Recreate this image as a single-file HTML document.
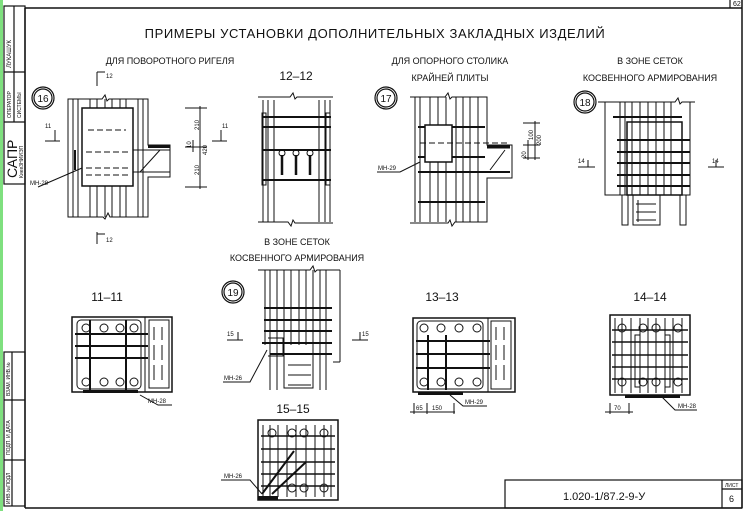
<!DOCTYPE html>
<html><head><meta charset="utf-8"><style>
html,body{margin:0;padding:0;background:#fff;}
svg{display:block;}
text{font-family:"Liberation Sans","DejaVu Sans",sans-serif;fill:#111;}
</style></head><body>
<svg width="750" height="511" viewBox="0 0 750 511" xmlns="http://www.w3.org/2000/svg">
<rect x="0" y="0" width="750" height="511" fill="#fff"/>
<rect x="0" y="0" width="3" height="511" fill="#7fe07f"/>
<g stroke="#111" fill="none" stroke-width="1.2">
<!-- frame -->
<line x1="25" y1="8" x2="742" y2="8" stroke-width="1.5"/>
<line x1="25" y1="8" x2="25" y2="508" stroke-width="1.5"/>
<line x1="742" y1="0" x2="742" y2="508" stroke-width="1.5"/>
<line x1="25" y1="508" x2="742" y2="508" stroke-width="1.5"/>
<line x1="730" y1="0" x2="730" y2="8"/>
<!-- left stamps -->
<rect x="4" y="6" width="21" height="178"/>
<line x1="4" y1="72" x2="25" y2="72"/><line x1="4" y1="122" x2="25" y2="122"/>
<line x1="14" y1="6" x2="14" y2="72"/><line x1="14" y1="72" x2="14" y2="122"/>
<rect x="4" y="352" width="21" height="154"/>
<line x1="4" y1="400" x2="25" y2="400"/><line x1="4" y1="460" x2="25" y2="460"/>
<line x1="12" y1="352" x2="12" y2="506"/>
<!-- title block -->
<rect x="505" y="480" width="237" height="28"/>
<line x1="722" y1="480" x2="722" y2="508"/><line x1="722" y1="489" x2="742" y2="489"/>
</g>
<g font-size="7">
<text transform="translate(11,68) rotate(-90)" font-size="6">ЛУКАШУК</text>
<text transform="translate(11,118) rotate(-90)" font-size="5">ОПЕРАТОР</text>
<text transform="translate(21,118) rotate(-90)" font-size="5">СИСТЕМЫ</text>
<text transform="translate(17,178) rotate(-90)" font-size="14">САПР</text>
<text transform="translate(23,178) rotate(-90)" font-size="5">КиевЗНИИЭП</text>
<text transform="translate(10,396) rotate(-90)" font-size="5">ВЗАМ. ИНВ.№</text>
<text transform="translate(10,455) rotate(-90)" font-size="5">ПОДП. И ДАТА</text>
<text transform="translate(10,504) rotate(-90)" font-size="5">ИНВ.№ПОДЛ</text>
<text x="733" y="6" font-size="7">62</text>
<text x="725" y="487" font-size="5">ЛИСТ</text>
<text x="729" y="502" font-size="9">6</text>
<text x="563" y="500" font-size="11">1.020-1/87.2-9-У</text>
</g>
<!-- titles -->
<text x="375" y="38" font-size="13" text-anchor="middle" letter-spacing="0.6">ПРИМЕРЫ УСТАНОВКИ ДОПОЛНИТЕЛЬНЫХ ЗАКЛАДНЫХ ИЗДЕЛИЙ</text>
<g font-size="9" text-anchor="middle">
<text x="170" y="64">ДЛЯ ПОВОРОТНОГО РИГЕЛЯ</text>
<text x="450" y="64">ДЛЯ ОПОРНОГО СТОЛИКА</text>
<text x="450" y="81">КРАЙНЕЙ ПЛИТЫ</text>
<text x="650" y="64">В ЗОНЕ СЕТОК</text>
<text x="650" y="81">КОСВЕННОГО АРМИРОВАНИЯ</text>
<text x="297" y="245">В ЗОНЕ СЕТОК</text>
<text x="297" y="261">КОСВЕННОГО АРМИРОВАНИЯ</text>
</g>
<g font-size="12" text-anchor="middle">
<text x="296" y="80">12–12</text>
<text x="107" y="301">11–11</text>
<text x="442" y="301">13–13</text>
<text x="650" y="301">14–14</text>
<text x="293" y="413">15–15</text>
</g>
<g stroke="#111" fill="none" stroke-width="1.2">
<circle cx="43" cy="98" r="11"/><circle cx="43" cy="98" r="9"/>
<circle cx="386" cy="98" r="11"/><circle cx="386" cy="98" r="9"/>
<circle cx="585" cy="102" r="11"/><circle cx="585" cy="102" r="9"/>
<circle cx="233" cy="292" r="11"/><circle cx="233" cy="292" r="9"/>
</g>
<g font-size="10" text-anchor="middle"><text x="43" y="102">16</text><text x="386" y="102">17</text><text x="585" y="106">18</text><text x="233" y="296">19</text></g>

<g stroke="#111" fill="none" stroke-width="1">
<!-- detail 16 -->
<path d="M68 99 H102 l3 -4 l2 6 l2 -2 H148 V145 H170 V177 H148 V217 H110 l-2 -4 l-3 6 l-2 -2 H68 Z"/>
<path d="M73 99V217M78 99V217M138 99V217M143 99V217M90 99V108M97 99V108M105 99V108M112 99V108M120 99V108M126 99V108M90 186V217M97 186V217M105 186V217M112 186V217M120 186V217M126 186V217"/>
<rect x="82" y="108" width="51" height="78" stroke-width="1.5"/>
<path d="M88 130H126M86 152H128M86 168H128M86 175H128" stroke-dasharray="6 3"/>
<path d="M133 150H170M133 172H170M140 172L160 150" />
<path d="M75 150V170" stroke-width="2"/>
<path d="M38 187L82 168"/>
<path d="M185 108H207M185 147H207M185 187H207M200 106V189M193 140V152" />
<path d="M45 141H60M55 130V141 M212 141H227M221 130V141M97 72V86M97 72H105M97 232V244M97 234H105"/>
<!-- 12-12 -->
<path d="M258 97H290l3 -4l2 6l2 -2H333 M258 222H288l3 4l2 -6l2 3H333"/>
<path d="M263 100V222M268 100V222M274 100V222M319 100V222M325 100V222M330 100V222"/>
<path d="M262 117H331M262 127H331M262 150H331M262 180H331" stroke-width="2"/>
<rect x="262" y="113" width="4" height="72"/><rect x="326" y="113" width="4" height="72"/>
<path d="M282 155V175M296 155V175M310 155V175" stroke-width="2.5"/>
<circle cx="282" cy="153" r="3"/><circle cx="296" cy="153" r="3"/><circle cx="310" cy="153" r="3"/>
<!-- detail 17 -->
<path d="M410 97H445l3 -4l2 6l2 -2H487V145H512V178H487V222H455l-3 4l-2 -6l-2 3H410"/>
<path d="M415 97V222M420 97V222M430 97V222M438 97V222M446 97V222M456 97V222M463 97V222M470 97V222M478 97V222"/>
<path d="M418 127H485M418 157H485M418 172H510M418 202H485" stroke-width="2"/>
<rect x="425" y="125" width="27" height="37" fill="#fff" stroke-width="1.5"/>
<path d="M420 143H510" stroke-dasharray="6 3"/>
<path d="M487 148H510M490 170L505 150M420 155V175" />
<path d="M377 172H400L420 162"/>
<path d="M523 123H540M523 145H540M523 158H540M535 121V160M528 140V160"/>
<!-- detail 18 -->
<path d="M598 102H675l3 -4l2 6l2 -2H695 M605 102V195H690V102"/>
<path d="M620 102V195M625 102V195M632 102V195M640 102V195M648 102V195M656 102V195M664 102V195M671 102V195"/>
<path d="M613 117H682" stroke-width="2"/>
<rect x="627" y="122" width="55" height="73" stroke-width="1.5"/>
<path d="M617 140H690M617 152H690M617 163H690M617 175H690M617 186H690" stroke-width="2"/>
<path d="M633 195V225H660V195M638 200V222M622 195V225H628V195M680 195V225H686V195 M636 204H656M636 212H656M636 220H656" />
<path d="M578 167H595M588 160V167 M708 167H724M716 160V167"/>
<!-- 11-11 -->
<rect x="72" y="317" width="100" height="75" stroke-width="1.5"/>
<rect x="77" y="320" width="64" height="69" rx="4"/>
<line x1="145" y1="317" x2="145" y2="392"/>
<rect x="149" y="320" width="20" height="68"/>
<path d="M75 334H148M75 346H148M75 358H148M90 320V390M126 320V390" stroke-width="2"/>
<path d="M154 327V340M162 327V340M154 345V360M162 345V360M154 365V380M162 365V380"/>
<path d="M140 395L158 405H172"/>
<!-- 19 -->
<path d="M258 270H310l3 -4l2 6l2 -2H340 M265 270V345M340 270V362M333 362H340"/>
<path d="M270 270V390M277 270V390M284 270V345M291 270V345M299 270V345M306 270V345M313 270V345M320 270V390M326 270V390"/>
<path d="M264 308H332M264 320H332M264 331H332M262 343H332M270 354H332" stroke-width="2"/>
<path d="M268 338H283V356H268"/>
<path d="M284 345V388H313V345M288 365H311M288 375H311M288 385H311"/>
<path d="M223 382H250L267 350 M227 340H243M238 332V340 M352 340H368M360 332V340"/>
<!-- 15-15 -->
<rect x="258" y="420" width="80" height="80" stroke-width="1.5"/>
<path d="M263 425V497M270 425V497M278 425V497M287 425V497M296 425V497M306 425V497M315 425V497M324 425V497M331 425V497"/>
<path d="M261 436H335M261 449H335M261 462H335M261 474H335M261 486H335" stroke-width="1.5"/>
<path d="M262 494L294 451M272 494L306 462" stroke-width="2"/>
<path d="M221 480H250L262 494"/>
<!-- 13-13 -->
<rect x="413" y="318" width="102" height="74" stroke-width="1.5"/>
<rect x="417" y="321" width="66" height="68" rx="4"/>
<line x1="488" y1="318" x2="488" y2="392"/>
<rect x="491" y="321" width="20" height="68"/>
<path d="M416 341H490M416 354H490M416 368H490M428 335V390M446 335V390" stroke-width="2"/>
<path d="M496 327V340M504 327V340M496 345V360M504 345V360M496 365V380M504 365V380"/>
<path d="M450 395L463 406H487M410 412H455M414 403V414M427 403V414M454 403V414"/>
<!-- 14-14 -->
<rect x="610" y="315" width="80" height="80" stroke-width="1.5"/>
<path d="M615 318V393M622 318V393M631 318V393M640 318V393M648 318V393M656 318V393M665 318V393M673 318V393M682 318V393"/>
<path d="M612 330H688M612 342H688M612 355H688M612 367H688M612 379H688" stroke-width="1.5"/>
<rect x="635" y="335" width="5" height="52"/><rect x="665" y="335" width="5" height="52"/>
<path d="M662 397L675 410H697M605 412H633M610 403V414M629 403V414"/>
</g>
<g fill="#111" stroke="none">
<rect x="83" y="390" width="55" height="3"/><rect x="418" y="392" width="45" height="3"/><rect x="625" y="395" width="55" height="3"/>
<rect x="148" y="145" width="22" height="3"/><rect x="487" y="145" width="23" height="3"/>
<rect x="258" y="496" width="20" height="4"/>
</g>
<g stroke="#111" fill="none" stroke-width="1">
<circle cx="86" cy="328" r="4"/><circle cx="104" cy="328" r="4"/><circle cx="120" cy="328" r="4"/><circle cx="134" cy="328" r="4"/>
<circle cx="86" cy="382" r="4"/><circle cx="104" cy="382" r="4"/><circle cx="120" cy="382" r="4"/><circle cx="134" cy="382" r="4"/>
<circle cx="424" cy="328" r="4"/><circle cx="441" cy="328" r="4"/><circle cx="459" cy="328" r="4"/><circle cx="477" cy="328" r="4"/>
<circle cx="424" cy="382" r="4"/><circle cx="441" cy="382" r="4"/><circle cx="459" cy="382" r="4"/><circle cx="477" cy="382" r="4"/>
<circle cx="622" cy="328" r="4"/><circle cx="643" cy="328" r="4"/><circle cx="656" cy="328" r="4"/><circle cx="678" cy="328" r="4"/>
<circle cx="622" cy="382" r="4"/><circle cx="643" cy="382" r="4"/><circle cx="656" cy="382" r="4"/><circle cx="678" cy="382" r="4"/>
<circle cx="272" cy="433" r="4"/><circle cx="292" cy="433" r="4"/><circle cx="304" cy="433" r="4"/><circle cx="324" cy="433" r="4"/>
<circle cx="292" cy="488" r="4"/><circle cx="304" cy="488" r="4"/><circle cx="324" cy="488" r="4"/>
</g>
<g font-size="6">
<text x="30" y="185">МН-28</text><text x="378" y="170">МН-29</text>
<text x="148" y="403">МН-28</text><text x="224" y="380">МН-26</text><text x="224" y="478">МН-26</text>
<text x="465" y="404">МН-29</text><text x="678" y="408">МН-28</text>
<text x="416" y="410">65</text><text x="432" y="410">150</text><text x="614" y="410">70</text>
<text x="45" y="128">11</text><text x="222" y="128">11</text><text x="106" y="78">12</text><text x="106" y="242">12</text>
<text x="227" y="336">15</text><text x="362" y="336">15</text><text x="578" y="163">14</text><text x="712" y="163">14</text>
<text transform="translate(199,130) rotate(-90)">210</text>
<text transform="translate(207,155) rotate(-90)">420</text>
<text transform="translate(199,175) rotate(-90)">210</text>
<text transform="translate(191,148) rotate(-90)">10</text>
<text transform="translate(533,140) rotate(-90)">100</text>
<text transform="translate(541,145) rotate(-90)">200</text>
<text transform="translate(526,158) rotate(-90)">20</text>
</g>
</svg>
</body></html>
